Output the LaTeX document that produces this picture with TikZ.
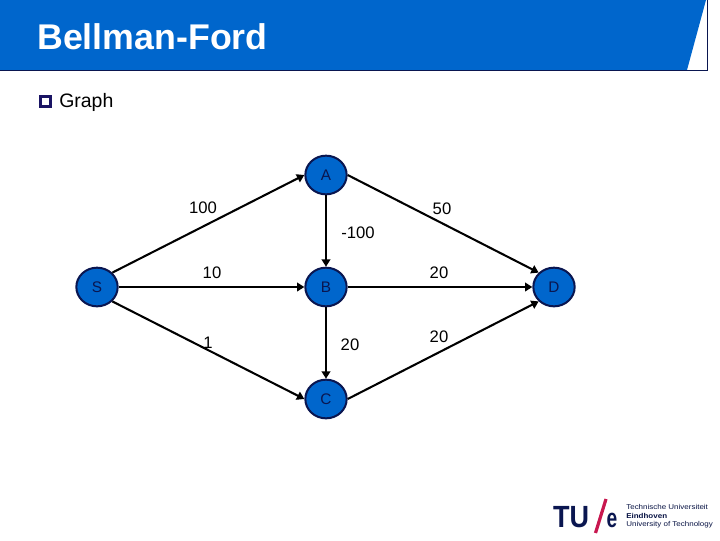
\documentclass[tikz,border=0pt]{standalone}
\usepackage{fontspec}
\setmainfont{Liberation Sans}
\usetikzlibrary{arrows.meta,shapes.geometric}
\definecolor{hdr}{HTML}{0066CC}
\definecolor{navy}{HTML}{0A1650}
\definecolor{bul}{HTML}{1A1464}
\definecolor{tue}{HTML}{C8174F}
\tikzset{
  vert/.style={draw=navy,line width=1.5pt,fill=hdr,ellipse,minimum width=31pt,minimum height=29pt,inner sep=0pt,text=navy,font=\fontsize{11.5}{13}\selectfont},
  edge/.style={draw=black,line width=1.55pt,-{Triangle[length=5.5pt,width=6.5pt]}},
  lab/.style={font=\fontsize{12.5}{14}\selectfont,text=black,inner sep=0pt},
  logotxt/.style={font=\fontsize{5.3}{6}\selectfont,text=navy!85!black,inner sep=0pt,anchor=west,xscale=1.13,transform shape}
}
\begin{document}
\begin{tikzpicture}[x=0.75pt,y=-0.75pt]
\useasboundingbox (0,0) rectangle (720,540);
\fill[white] (0,0) rectangle (720,540);
% header
\fill[hdr] (0,0) -- (706,0) -- (687,70) -- (0,70) -- cycle;
\draw[navy,line width=0.9pt] (0,70.5) -- (707.5,70.5) -- (707.5,0);
\node[anchor=base west,inner sep=0pt,text=white,font=\fontsize{26.8}{30}\selectfont\bfseries] (title) at (37,49) {Bellman-Ford};
% bullet
\node[draw=bul,line width=2.25pt,minimum size=7.6pt,inner sep=0pt,fill=white] (bullet) at (45.8,101.3) {};
\node[anchor=base west,inner sep=0pt,font=\fontsize{14.6}{18}\selectfont] (graph) at (59,107) {Graph};
% vertices
\node[vert] (A) at (326,175) {A};
\node[vert] (B) at (326,287) {B};
\node[vert] (C) at (326,399) {C};
\node[vert] (S) at (97,287) {S};
\node[vert] (D) at (554,287) {D};
% edges
\draw[edge] (S.north east) -- (A.west);
\draw[edge] (S.east) -- (B.west);
\draw[edge] (S.south east) -- (C.west);
\draw[edge] (A.south) -- (B.north);
\draw[edge] (A.east) -- (D.north west);
\draw[edge] (B.east) -- (D.west);
\draw[edge] (B.south) -- (C.north);
\draw[edge] (C.east) -- (D.south west);
% labels
\node[lab] (l1) at (203,208) {100};
\node[lab] (l2) at (442,209) {50};
\node[lab] (l3) at (358,233) {-100};
\node[lab] (l4) at (212,273) {10};
\node[lab] (l5) at (439,273) {20};
\node[lab] (l6) at (208,343) {1};
\node[lab] (l7) at (350,345) {20};
\node[lab] (l8) at (439,337) {20};
% logo
\node[anchor=base west,inner sep=0pt,text=navy,xscale=0.88,transform shape,font=\fontsize{23}{26}\selectfont\bfseries] (tu) at (553,527) {TU};
\coordinate (sa) at (595.5,533);
\coordinate (sb) at (606,499);
\draw[tue,line width=2.4pt] (sa) -- (sb);
\node[anchor=base west,inner sep=0pt,text=navy,xscale=0.72,transform shape,font=\fontsize{20}{24}\selectfont\bfseries] (e) at (606.5,527) {e};
\node[logotxt] (t1) at (626,507) {Technische Universiteit};
\node[logotxt,font=\fontsize{5.3}{6}\selectfont\bfseries] (t2) at (626,516) {Eindhoven};
\node[logotxt] (t3) at (626,525) {University of Technology};
\end{tikzpicture}
\end{document}
